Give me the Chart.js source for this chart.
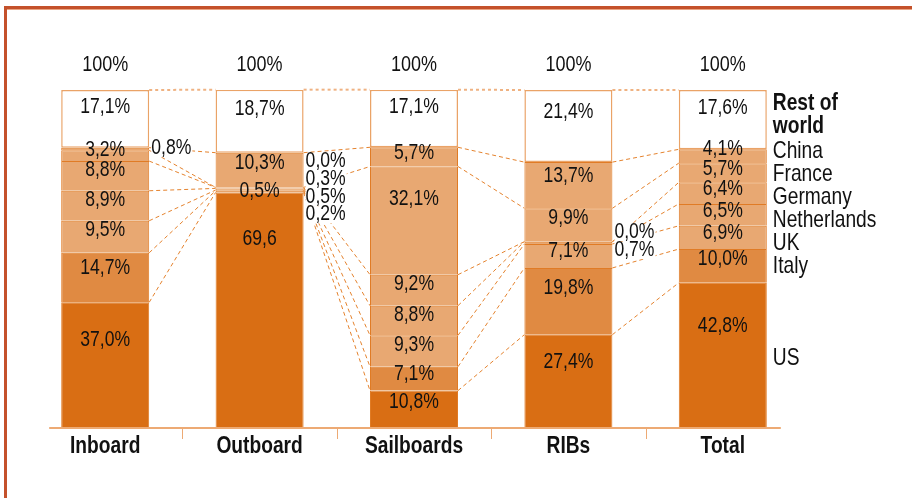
<!DOCTYPE html>
<html>
<head>
<meta charset="UTF-8" />
<script src="https://cdn.jsdelivr.net/npm/chart.js@4"></script>
<style>
  html, body { margin: 0; padding: 0; background: #fff; }
  #wrap { width: 912px; height: 498px; }
</style>
</head>
<body>
<div id="wrap"><canvas id="chart" width="912" height="498"></canvas></div>
<script>
// Categories (bars)
const categories = ["Inboard", "Outboard", "Sailboards", "RIBs", "Total"];

// Shares per country, % (bottom to top of each bar)
const us          = [37.0, 69.6, 10.8, 27.4, 42.8];
const italy       = [14.7,  0.5,  7.1, 19.8, 10.0];
const uk          = [ 9.5,  0.2,  9.3,  7.1,  6.9];
const netherlands = [ 8.9,  0.5,  8.8,  0.7,  6.5];
const germany     = [ 8.8,  0.3,  9.2,  0.0,  6.4];
const france      = [ 3.2,  0.0, 32.1,  9.9,  5.7];
const china       = [ 0.8, 10.3,  5.7, 13.7,  4.1];
const restOfWorld = [17.1, 18.7, 17.1, 21.4, 17.6];

const totals = ["100%", "100%", "100%", "100%", "100%"];
// the source prints the Outboard US value without a % sign
const usText = [null, "69,6", null, null, null];

// no condensed face is installed, so text is squeezed horizontally
const FONT = "'Liberation Sans', Arial, sans-serif";
const SX = 0.8;
const DARK = "#D96E14", MID = "#E08A42", LIGHT = "#E8A872";

const series = [
  { name: "US", values: us, color: DARK, texts: usText },
  { name: "Italy", values: italy, color: MID },
  { name: "UK", values: uk, color: LIGHT },
  { name: "Netherlands", values: netherlands, color: LIGHT },
  { name: "Germany", values: germany, color: LIGHT },
  { name: "France", values: france, color: LIGHT },
  { name: "China", values: china, color: LIGHT },
  { name: "Rest of world", values: restOfWorld, color: "#ffffff" },
];

const fmt = (v) => v.toFixed(1).replace(".", ",") + "%";

function text(ctx, str, x, y, align, size, bold) {
  ctx.save();
  ctx.font = (bold ? "bold " : "") + size + "px " + FONT;
  ctx.translate(x, y);
  ctx.scale(SX, 1);
  ctx.textAlign = align;
  ctx.textBaseline = "middle";
  ctx.fillStyle = "#111";
  ctx.fillText(str, 0, 0);
  ctx.restore();
}

function textWidth(ctx, str, size) {
  ctx.save();
  ctx.font = size + "px " + FONT;
  const w = ctx.measureText(str).width * SX;
  ctx.restore();
  return w;
}

const decor = {
  id: "decor",
  beforeDraw(chart) {
    const ctx = chart.ctx;
    ctx.save();
    ctx.fillStyle = "#fff";
    ctx.fillRect(0, 0, chart.width, chart.height);
    // frame round the graphic
    ctx.fillStyle = "#E9A584";
    ctx.fillRect(4, 9, chart.width - 4, 1);
    ctx.fillStyle = "#C4512B";
    ctx.fillRect(4, 6, chart.width - 4, 3);
    ctx.fillRect(4, 6, 3, chart.height - 6);
    ctx.restore();
  },
  beforeDatasetsDraw(chart) {
    // dashed connectors between matching boundaries of neighbouring bars
    const ctx = chart.ctx;
    const n = categories.length, m = series.length;
    ctx.save();
    for (let i = 0; i < n - 1; i++) {
      for (let k = 0; k < m; k++) {
        const a = chart.getDatasetMeta(k).data[i];
        const b = chart.getDatasetMeta(k).data[i + 1];
        const top = k === m - 1;
        ctx.beginPath();
        ctx.setLineDash(top ? [3, 3] : [4, 3]);
        ctx.lineWidth = top ? 2 : 1;
        ctx.strokeStyle = top ? "#EFB282" : "#E5832E";
        ctx.moveTo(a.x + a.width / 2, a.y);
        ctx.lineTo(b.x - b.width / 2, b.y);
        ctx.stroke();
      }
    }
    ctx.restore();
  },
  afterDatasetsDraw(chart) {
    const ctx = chart.ctx;
    const yScale = chart.scales.y;
    const n = categories.length, m = series.length;
    ctx.save();
    ctx.setLineDash([]);

    // x axis line and separators
    const first = chart.getDatasetMeta(0).data[0];
    const last = chart.getDatasetMeta(0).data[n - 1];
    const axisY = yScale.getPixelForValue(0) + 1;
    ctx.strokeStyle = "#EDAA74";
    ctx.lineWidth = 2;
    ctx.beginPath();
    ctx.moveTo(first.x - first.width / 2 - 12, axisY);
    ctx.lineTo(last.x + last.width / 2 + 14, axisY);
    ctx.stroke();
    ctx.lineWidth = 1;
    for (let i = 0; i < n - 1; i++) {
      const a = chart.getDatasetMeta(0).data[i], b = chart.getDatasetMeta(0).data[i + 1];
      const xm = Math.round((a.x + b.x) / 2) + 0.5;
      ctx.beginPath();
      ctx.moveTo(xm, axisY);
      ctx.lineTo(xm, axisY + 11);
      ctx.stroke();
    }

    // category names and totals
    for (let i = 0; i < n; i++) {
      const el = chart.getDatasetMeta(0).data[i];
      text(ctx, categories[i], el.x, axisY + 18, "center", 24, true);
      text(ctx, totals[i], el.x, yScale.getPixelForValue(100) - 25, "center", 22.5, false);
    }

    // value labels: inside the segment when there is room, else in a column at the right
    for (let i = 0; i < n; i++) {
      let lastY = Infinity;
      const outside = [];
      for (let k = 0; k < m; k++) {
        const el = chart.getDatasetMeta(k).data[i];
        const v = series[k].values[i];
        const h = el.base - el.y;
        const cy = el.y + Math.min(h * 0.3, 46);
        const txt = (series[k].texts && series[k].texts[i]) || fmt(v);
        if (lastY - cy >= 14 && h > 1) {
          const y = Math.min(cy, lastY - 20);
          text(ctx, txt, el.x, y, "center", 22, false);
          lastY = y;
        } else {
          outside.push({ k, txt, mid: (el.y + el.base) / 2, el });
        }
      }
      if (outside.length) {
        outside.sort((p, q) => q.k - p.k);
        const centre = outside.reduce((s, o) => s + o.mid, 0) / outside.length - 1;
        const x0 = outside[0].el.x + outside[0].el.width / 2 + 2;
        const gap = 17.7;
        const y0 = centre - (gap * (outside.length - 1)) / 2;
        outside.forEach((o, j) => {
          const w = textWidth(ctx, o.txt, 22);
          ctx.fillStyle = "#fff";
          ctx.fillRect(x0, y0 + j * gap - 8, w + 1, 17);
          text(ctx, o.txt, x0, y0 + j * gap, "left", 22, false);
        });
      }
    }

    // country names next to the Total bar
    const lastIdx = n - 1;
    const tEl = chart.getDatasetMeta(0).data[lastIdx];
    const lx = tEl.x + tEl.width / 2 + 6;
    const seg = (k) => {
      const el = chart.getDatasetMeta(k).data[lastIdx];
      return (el.y + el.base) / 2;
    };
    text(ctx, series[0].name, lx, seg(0) + 3, "left", 24, false);
    let ly = seg(1);
    for (let k = 1; k < m - 1; k++) {
      text(ctx, series[k].name, lx, ly, "left", 24, false);
      ly -= 23;
    }
    text(ctx, "Rest of", lx, ly - 25, "left", 24, true);
    text(ctx, "world", lx, ly - 2, "left", 24, true);
    ctx.restore();
  },
};

new Chart(document.getElementById("chart"), {
  type: "bar",
  data: {
    labels: categories,
    datasets: series.map((s, k) => ({
      label: s.name,
      data: s.values,
      backgroundColor: s.color,
      borderColor: k === series.length - 1 ? "#EAA367" : "#E07B25",
      borderWidth: k === series.length - 1 ? 1.5 : { top: 1, left: 1, right: 1, bottom: 0 },
      borderSkipped: false,
      barPercentage: 0.57,
      categoryPercentage: 1.0,
    })),
  },
  options: {
    responsive: false,
    animation: false,
    layout: { padding: { left: 28, right: 112, top: 90, bottom: 71 } },
    plugins: { legend: { display: false }, tooltip: { enabled: false } },
    scales: {
      x: { stacked: true, display: false },
      y: { stacked: true, display: false, min: 0, max: 100 },
    },
  },
  plugins: [decor],
});
</script>
</body>
</html>
